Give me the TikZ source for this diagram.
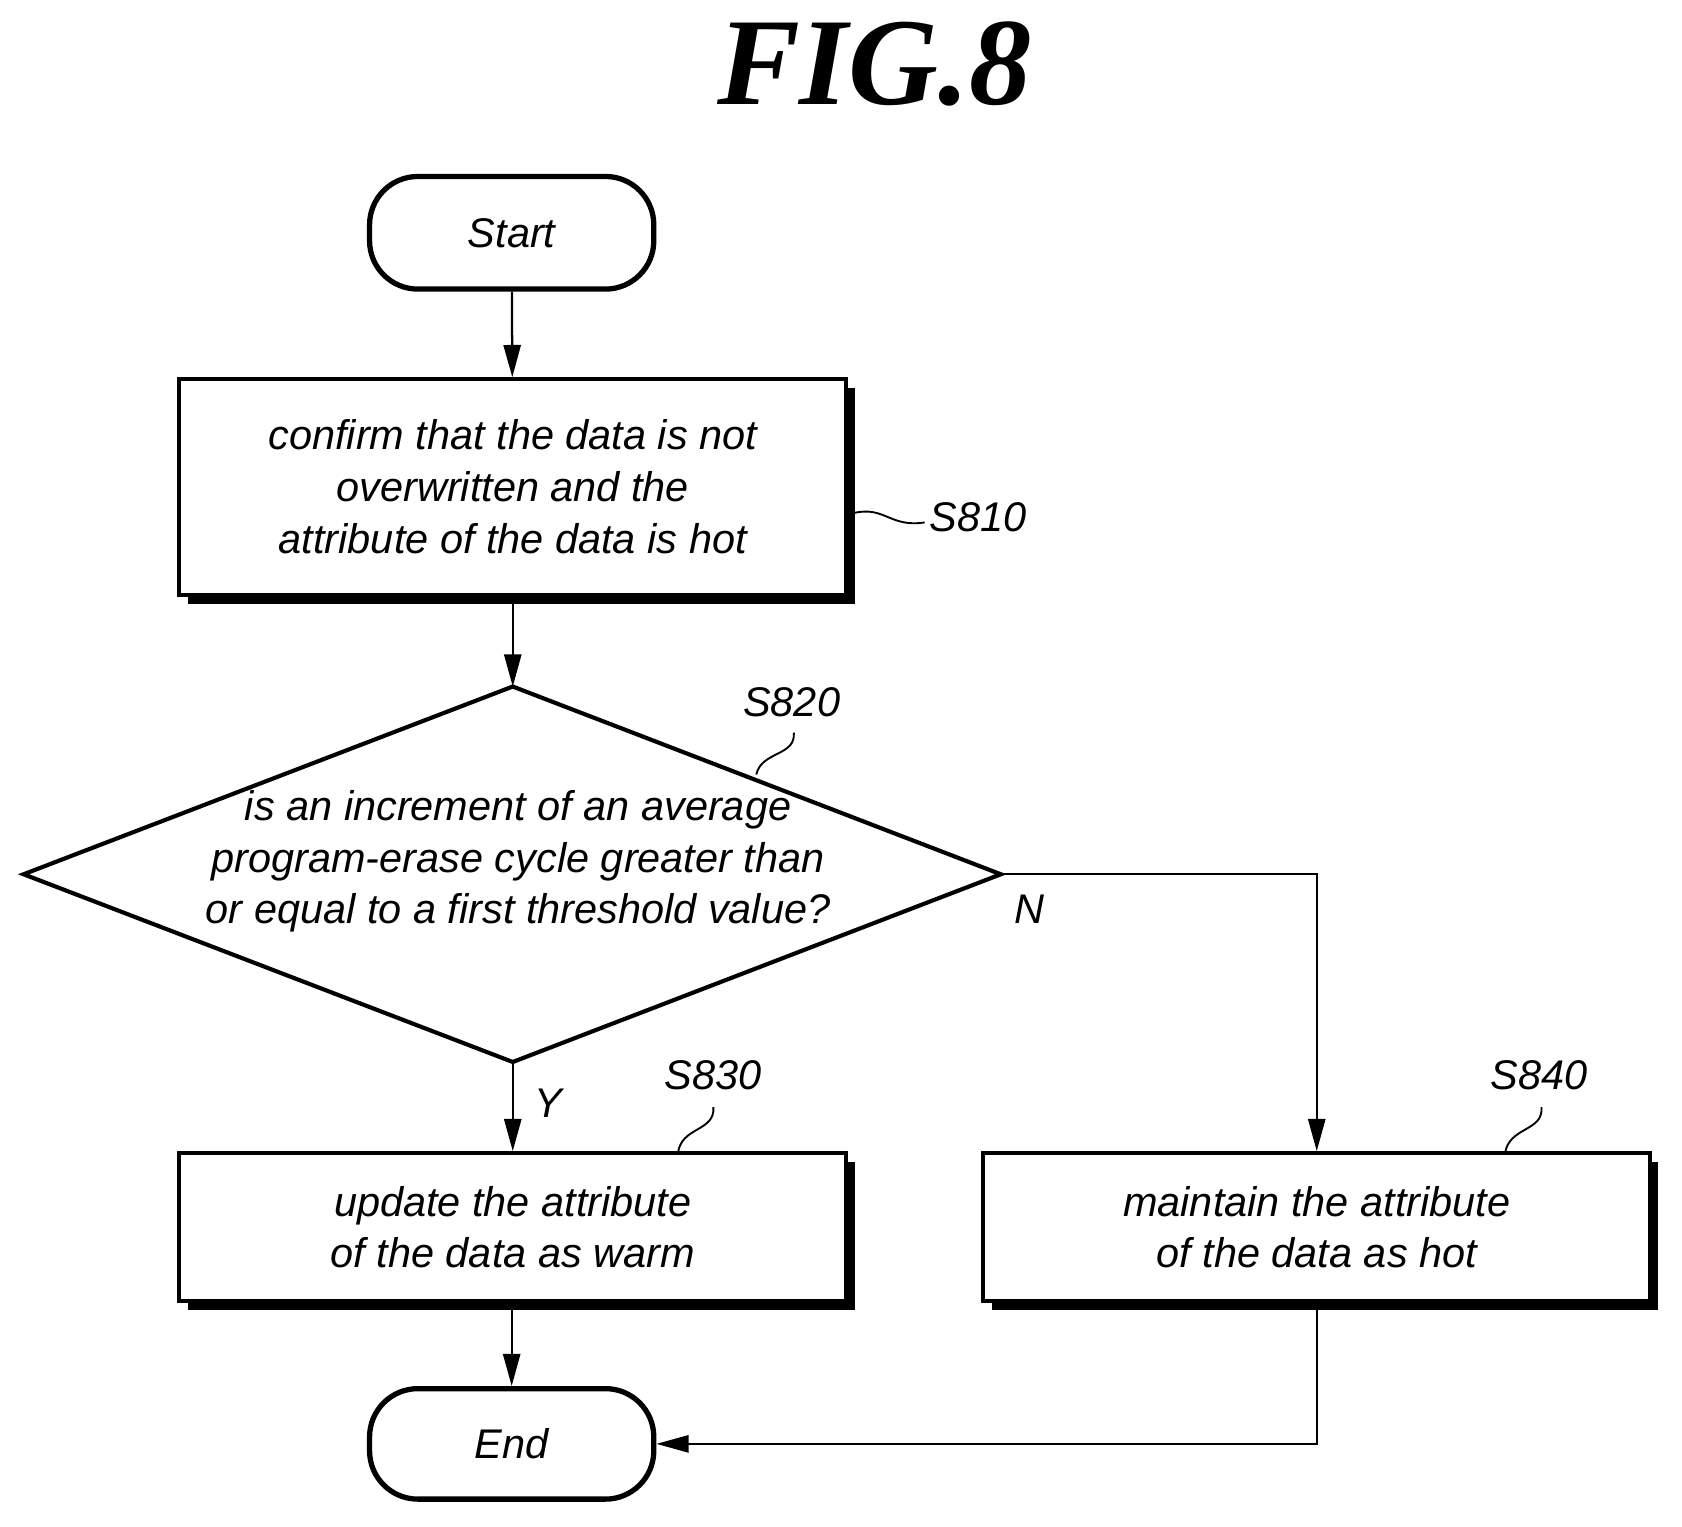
\documentclass[tikz,border=0pt]{standalone}
\usepackage{fontspec}
\setmainfont{Liberation Sans}
\newfontfamily\titlefont{Liberation Serif}
\usetikzlibrary{arrows.meta,shapes.geometric}
\begin{document}
\begin{tikzpicture}[x=0.02cm,y=-0.02cm,
  txt/.style={font=\fontsize{22}{27.5}\selectfont\itshape, align=center},
  box/.style={draw, line width=2.2pt, minimum width=12.44cm, minimum height=#1, inner sep=0pt},
  term/.style={draw, line width=2.8pt, rounded corners=0.9cm, minimum width=5.3cm, minimum height=#1, inner sep=0pt},
  arr/.style={line width=1.2pt, -{Triangle[length=0.6cm,width=0.32cm]}},
  ln/.style={line width=1.2pt},
  sq/.style={line width=1pt}]
\useasboundingbox (0,0) rectangle (1568,1423);
\node[font=\fontsize{66}{70}\selectfont\titlefont\bfseries\itshape] (title) at (815,60) {FIG.8};
\node[term=2.1cm, txt] (start) at (477,217) {Start};
% S810
\fill (175,362) rectangle (797,563);
\node[box=4.02cm, fill=white, txt] (s810) at (478,454) {confirm that the data is not\\overwritten and the\\attribute of the data is hot};
\node[txt] (l810) at (912,482) {S810};
\draw[sq] (797,478) .. controls (825,472) and (830,492) .. (862,487);
% diamond
\coordinate (dt) at (478,640); \coordinate (dl) at (22,815);
\coordinate (dr) at (933,815); \coordinate (db) at (478,990);
\draw[line width=2.2pt] (dt) -- (dr) -- (db) -- (dl) -- cycle;
\node[txt] (s820) at (483,803) {is an increment of an average\\program-erase cycle greater than\\or equal to a first threshold value?};
\node[txt] (l820) at (738,655) {S820};
\draw[sq] (740,683) .. controls (742,705) and (710,700) .. (705,722);
\node[txt] (N) at (960,848) {N};
\node[txt] (Y) at (511,1028) {Y};
% S830
\fill (175,1083) rectangle (797,1221);
\node[box=2.76cm, fill=white, txt] (s830) at (478,1144) {update the attribute\\of the data as warm};
\node[txt] (l830) at (665,1002) {S830};
\draw[sq] (665,1032) .. controls (667,1055) and (635,1050) .. (632,1075);
% S840
\fill (925,1083) rectangle (1546,1221);
\node[box=2.76cm, fill=white, txt] (s840) at (1227.5,1144) {maintain the attribute\\of the data as hot};
\node[txt] (l840) at (1435,1002) {S840};
\draw[sq] (1437,1032) .. controls (1439,1055) and (1407,1050) .. (1403,1075);
% End
\node[term=2.06cm, txt] (end) at (477,1346) {End};
% arrows
\draw[arr] (start) -- (s810);
\draw[arr] (s810.south -| dt) -- (dt);
\draw[arr] (db) -- (s830.north -| db);
\draw[arr] (dr) -| (s840.north);
\draw[arr] (s830.south -| end) -- (end);
\draw[arr] (s840.south) |- (end.east);
\end{tikzpicture}
\end{document}
